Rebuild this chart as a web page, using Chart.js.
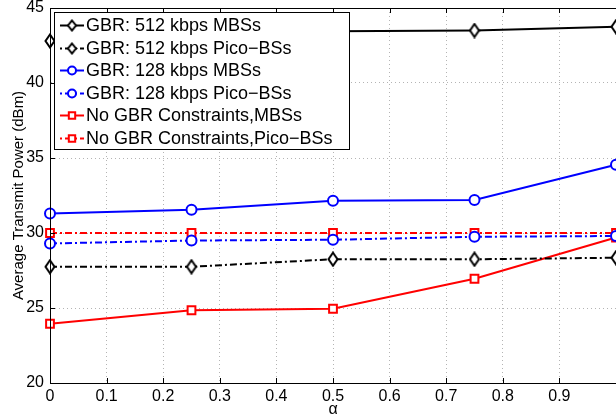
<!DOCTYPE html>
<html>
<head>
<meta charset="utf-8">
<script src="https://cdn.jsdelivr.net/npm/chart.js@4.4.0/dist/chart.umd.min.js"></script>
<style>
  html, body { margin: 0; padding: 0; background: #fff; overflow: hidden; }
  #wrap { width: 624px; height: 417px; }
</style>
</head>
<body>
<div id="wrap"><canvas id="powerChart" width="624" height="417"></canvas></div>
<script>
// alpha values on the x axis
const alphaValues = [0, 0.25, 0.5, 0.75, 1];

// average transmit power (dBm)
const gbr512Mbs  = [42.8, 43.3, 43.45, 43.5, 43.75];
const gbr512Pico = [27.75, 27.75, 28.25, 28.25, 28.35];
const gbr128Mbs  = [31.3, 31.55, 32.15, 32.2, 34.55];
const gbr128Pico = [29.3, 29.5, 29.55, 29.75, 29.8];
const noGbrMbs   = [23.95, 24.85, 24.95, 26.95, 29.7];
const noGbrPico  = [30.0, 30.0, 30.0, 30.0, 30.0];

const seriesLabels = [
  "GBR: 512 kbps MBSs",
  "GBR: 512 kbps Pico\u2212BSs",
  "GBR: 128 kbps MBSs",
  "GBR: 128 kbps Pico\u2212BSs",
  "No GBR Constraints,MBSs",
  "No GBR Constraints,Pico\u2212BSs"
];

const FONT = "'Liberation Sans', Arial, Helvetica, sans-serif";
const DASHDOT = [7, 3, 2, 3];

// MATLAB-like diamond (taller than wide)
function diamond(w, h) {
  const c = document.createElement("canvas");
  c.width = w; c.height = h;
  const g = c.getContext("2d");
  g.fillStyle = "#fff";
  g.strokeStyle = "#000";
  g.lineWidth = 2;
  g.beginPath();
  g.moveTo(w / 2, 1.5); g.lineTo(w - 1.5, h / 2);
  g.lineTo(w / 2, h - 1.5); g.lineTo(1.5, h / 2);
  g.closePath();
  g.fill(); g.stroke();
  return c;
}
const bigDiamond = diamond(12, 16);
const smallDiamond = diamond(11, 13);

function pts(vals) {
  return vals.map((v, i) => ({ x: alphaValues[i], y: v }));
}

function series(label, vals, color, dashed, style, radius) {
  return {
    label: label,
    data: pts(vals),
    borderColor: color,
    borderWidth: 2,
    borderDash: dashed ? DASHDOT : [],
    pointStyle: style,
    pointRadius: radius,
    pointBorderColor: color,
    pointBackgroundColor: "#fff",
    pointBorderWidth: 2,
    tension: 0,
    fill: false,
    clip: false
  };
}

// box, inward ticks and in-plot legend (MATLAB look)
const matlabFrame = {
  id: "matlabFrame",
  afterDatasetsDraw(chart) {
    const ctx = chart.ctx;
    const a = chart.chartArea;
    const xs = chart.scales.x, ys = chart.scales.y;
    ctx.save();
    ctx.strokeStyle = "#000";
    ctx.lineWidth = 1;
    ctx.setLineDash([]);
    ctx.strokeRect(a.left + 0.5, a.top + 0.5, a.right - a.left, a.bottom - a.top);
    ctx.beginPath();
    xs.ticks.forEach(t => {
      const px = Math.round(xs.getPixelForValue(t.value)) + 0.5;
      ctx.moveTo(px, a.bottom); ctx.lineTo(px, a.bottom - 5);
      ctx.moveTo(px, a.top); ctx.lineTo(px, a.top + 5);
    });
    ys.ticks.forEach(t => {
      const py = Math.round(ys.getPixelForValue(t.value)) + 0.5;
      ctx.moveTo(a.left, py); ctx.lineTo(a.left + 5, py);
    });
    ctx.stroke();

    // legend
    const bx = 54, by = 12, bw = 295, bh = 137;
    ctx.fillStyle = "#fff";
    ctx.fillRect(bx, by, bw, bh);
    ctx.strokeRect(bx + 0.5, by + 0.5, bw, bh);
    ctx.font = "18px " + FONT;
    ctx.textBaseline = "middle";
    chart.data.datasets.forEach((ds, i) => {
      const y = Math.round(25 + i * 22.5) + 0.5;
      ctx.save();
      ctx.strokeStyle = ds.borderColor;
      ctx.lineWidth = 2;
      ctx.setLineDash(ds.borderDash);
      ctx.lineDashOffset = ds.borderDash.length ? 10 : 0;
      ctx.beginPath();
      ctx.moveTo(60, y); ctx.lineTo(84, y);
      ctx.stroke();
      ctx.setLineDash([]);
      ctx.fillStyle = "#fff";
      if (ds.pointStyle === bigDiamond) {
        ctx.drawImage(smallDiamond, 72 - smallDiamond.width / 2, y - smallDiamond.height / 2);
      } else {
        Chart.helpers.drawPoint(ctx, {
          pointStyle: ds.pointStyle, radius: ds.pointRadius - 1, rotation: 0, borderWidth: 2
        }, 72, y);
      }
      ctx.restore();
      ctx.fillStyle = "#000";
      ctx.fillText(ds.label, 86, y + 1);
    });
    ctx.restore();
  }
};

function noEdgePadding(s) {
  s.paddingTop = 0; s.paddingBottom = 0;
  s.paddingLeft = 0; s.paddingRight = 0;
}

new Chart(document.getElementById("powerChart"), {
  type: "line",
  data: {
    datasets: [
      series(seriesLabels[0], gbr512Mbs, "#000", false, bigDiamond, 6),
      series(seriesLabels[1], gbr512Pico, "#000", true, bigDiamond, 6),
      series(seriesLabels[2], gbr128Mbs, "#0000ff", false, "circle", 5),
      series(seriesLabels[3], gbr128Pico, "#0000ff", true, "circle", 5),
      series(seriesLabels[4], noGbrMbs, "#ff0000", false, "rect", 5.5),
      series(seriesLabels[5], noGbrPico, "#ff0000", true, "rect", 5.5)
    ]
  },
  options: {
    responsive: false,
    animation: false,
    layout: { padding: { top: 8, right: 7, left: 0, bottom: 0 } },
    plugins: {
      legend: { display: false },
      tooltip: { enabled: false }
    },
    scales: {
      x: {
        type: "linear",
        min: 0,
        max: 1,
        afterFit: s => { s.height = 34; noEdgePadding(s); },
        ticks: {
          stepSize: 0.1,
          padding: 4,
          color: "#000",
          font: { family: FONT, size: 16 },
          maxRotation: 0,
          callback: v => (v >= 1 ? "" : Math.round(v * 10) / 10)
        },
        grid: { color: "#b4b4b4", lineWidth: 1, drawTicks: false },
        border: { display: true, color: "#000", width: 1, dash: [1, 3] },
        title: {
          display: true,
          text: "\u03b1",
          color: "#000",
          font: { family: FONT, size: 16, lineHeight: 1 },
          padding: { top: 0, bottom: -1 }
        }
      },
      y: {
        min: 20,
        max: 45,
        afterFit: s => { s.width = 50; noEdgePadding(s); },
        ticks: {
          stepSize: 5,
          padding: 6,
          color: "#000",
          font: { family: FONT, size: 16 }
        },
        grid: { color: "#b4b4b4", lineWidth: 1, drawTicks: false },
        border: { display: true, color: "#000", width: 1, dash: [1, 3] },
        title: {
          display: true,
          text: "Average Transmit Power (dBm)",
          color: "#000",
          font: { family: FONT, size: 15, lineHeight: 1 },
          padding: { top: 11, bottom: 0 }
        }
      }
    }
  },
  plugins: [matlabFrame]
});
</script>
</body>
</html>
